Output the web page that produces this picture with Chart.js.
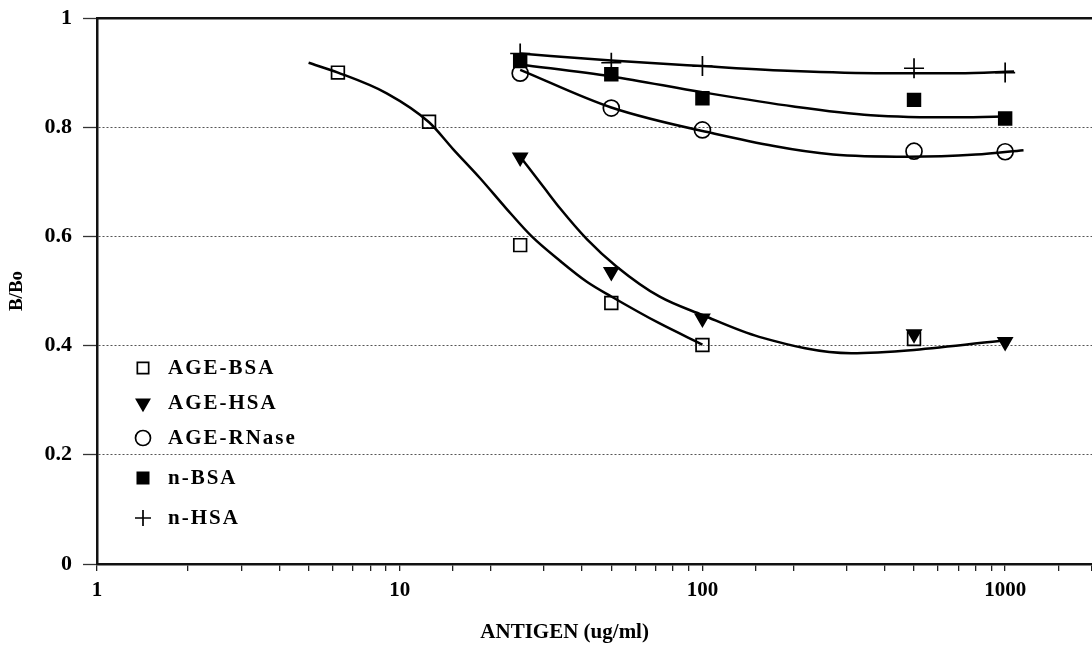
<!DOCTYPE html>
<html><head><meta charset="utf-8">
<script src="https://cdn.jsdelivr.net/npm/chart.js@4.4.0/dist/chart.umd.min.js"></script>
<style>html,body{margin:0;padding:0;background:#fff;overflow:hidden}#wrap{width:1092px;height:646px;position:relative}canvas{display:block}</style>
</head><body><div id="wrap"><canvas id="c"></canvas></div>
<script>
// ---- data ----
const seriesNames = ['AGE-BSA', 'AGE-HSA', 'AGE-RNase', 'n-BSA', 'n-HSA'];
const xTitle = 'ANTIGEN (ug/ml)';
const yTitle = 'B/Bo';
const xTickLabels = [1, 10, 100, 1000];
const yTickValues = [0, 0.2, 0.4, 0.6, 0.8, 1];
const yTickLabels = ['0', '0.2', '0.4', '0.6', '0.8', '1'];

// measured points
const ageBsaX = [6.25, 12.5, 25, 50, 100, 500];
const ageBsaY = [0.900, 0.810, 0.584, 0.478, 0.401, 0.412];
const ageHsaX = [25, 50, 100, 500, 1000];
const ageHsaY = [0.745, 0.535, 0.450, 0.421, 0.407];
const ageRnaseX = [25, 50, 100, 500, 1000];
const ageRnaseY = [0.899, 0.835, 0.795, 0.756, 0.755];
const nBsaX = [25, 50, 100, 500, 1000];
const nBsaY = [0.921, 0.897, 0.853, 0.850, 0.816];
const nHsaX = [25, 50, 100, 500, 1000];
const nHsaY = [0.935, 0.918, 0.912, 0.908, 0.900];

// fitted curves
const ageBsaFitX = [5, 6.25, 9.06, 12.5, 15, 18.4, 22.5, 27.3, 33.9, 41.5, 50, 72, 100];
const ageBsaFitY = [0.918, 0.900, 0.862, 0.809, 0.760, 0.707, 0.651, 0.600, 0.555, 0.517, 0.490, 0.441, 0.402];
const ageHsaFitX = [25, 30, 33.9, 41.5, 52, 72, 100, 154, 310, 500, 1000];
const ageHsaFitY = [0.746, 0.689, 0.651, 0.595, 0.545, 0.490, 0.456, 0.416, 0.386, 0.392, 0.410];
const ageRnaseFitX = [25, 50, 100, 270, 480, 800, 1150];
const ageRnaseFitY = [0.905, 0.836, 0.793, 0.750, 0.746, 0.750, 0.758];
const nBsaFitX = [25, 50, 100, 200, 360, 700, 1050];
const nBsaFitY = [0.915, 0.893, 0.864, 0.838, 0.822, 0.818, 0.820];
const nHsaFitX = [25, 50, 100, 200, 400, 700, 1070];
const nHsaFitY = [0.935, 0.922, 0.912, 0.903, 0.899, 0.899, 0.902];

const zip = (xs, ys) => xs.map((x, i) => ({x: x, y: ys[i]}));

const markerStyles = [
  {pointStyle: 'rect', rotation: 0, radius: 9, fill: 'rgba(0,0,0,0)', lr: 8},
  {pointStyle: 'triangle', rotation: 180, radius: 8, fill: '#000', lr: 7.5},
  {pointStyle: 'circle', rotation: 0, radius: 8, fill: 'rgba(0,0,0,0)', lr: 7.5},
  {pointStyle: 'rect', rotation: 0, radius: 9, fill: '#000', lr: 8},
  {pointStyle: 'cross', rotation: 0, radius: 10, fill: 'rgba(0,0,0,0)', lr: 8}
];
const pointSets = [zip(ageBsaX, ageBsaY), zip(ageHsaX, ageHsaY), zip(ageRnaseX, ageRnaseY), zip(nBsaX, nBsaY), zip(nHsaX, nHsaY)];
const fitSets = [zip(ageBsaFitX, ageBsaFitY), zip(ageHsaFitX, ageHsaFitY), zip(ageRnaseFitX, ageRnaseFitY), zip(nBsaFitX, nBsaFitY), zip(nHsaFitX, nHsaFitY)];

const datasets = [];
seriesNames.forEach((name, i) => {
  const m = markerStyles[i];
  datasets.push({
    label: name, data: pointSets[i], showLine: false, order: 1,
    pointStyle: m.pointStyle, rotation: m.rotation, pointRadius: m.radius,
    pointBackgroundColor: m.fill, pointBorderColor: '#000', pointBorderWidth: 1.7,
    pointHoverRadius: m.radius
  });
});
seriesNames.forEach((name, i) => {
  datasets.push({
    label: name + ' fit', data: fitSets[i], showLine: true, order: 2,
    borderColor: '#000', borderWidth: 2.5, pointRadius: 0, pointHoverRadius: 0,
    cubicInterpolationMode: 'monotone', fill: false
  });
});

const serif = '"Liberation Serif", "DejaVu Serif", serif';
const legendRowOffsets = [350, 385, 420, 460, 500];
const inlineLegend = {
  id: 'inlineLegend',
  afterDatasetsDraw(chart) {
    const ctx = chart.ctx, a = chart.chartArea;
    ctx.save();
    ctx.font = 'bold 21px "Liberation Serif"';
    try { ctx.letterSpacing = '2px'; } catch (e) {}
    ctx.textBaseline = 'middle';
    ctx.textAlign = 'left';
    seriesNames.forEach((name, i) => {
      const m = markerStyles[i];
      const y = a.top + legendRowOffsets[i];
      ctx.fillStyle = m.fill;
      ctx.strokeStyle = '#000';
      ctx.lineWidth = 1.7;
      Chart.helpers.drawPoint(ctx, {pointStyle: m.pointStyle, rotation: m.rotation, radius: m.lr, borderWidth: 1.7}, a.left + 46, y);
      ctx.fillStyle = '#000';
      ctx.fillText(name, a.left + 71, y + 1);
    });
    ctx.restore();
    // x-axis title (placed slightly left of centre, as in the source figure)
    ctx.save();
    ctx.font = 'bold 21px "Liberation Serif"';
    ctx.fillStyle = '#000';
    ctx.textAlign = 'center';
    ctx.textBaseline = 'middle';
    ctx.fillText(xTitle, a.left + (a.right - a.left) * 0.47, chart.height - 13);
    ctx.restore();
  }
};

const isLabelled = v => xTickLabels.some(t => Math.abs(t - v) < 1e-6 * t);

new Chart(document.getElementById('c'), {
  type: 'scatter',
  data: {datasets: datasets},
  options: {
    responsive: true, maintainAspectRatio: false, animation: false,
    layout: {autoPadding: false, padding: {top: 18, right: 0, left: 0, bottom: 0}},
    plugins: {legend: {display: false}, tooltip: {enabled: false}},
    scales: {
      x: {
        type: 'logarithmic', position: 'bottom', min: 1, max: 1936,
        border: {display: true, color: '#111', width: 2.5},
        grid: {display: true, drawOnChartArea: false, drawTicks: true, tickLength: 7, color: '#222', lineWidth: 1.3},
        ticks: {autoSkip: false, maxRotation: 0, padding: 7, color: '#000',
          font: {family: serif, size: 21, weight: 'bold'},
          callback: v => isLabelled(v) ? String(Math.round(v)) : ''},
        title: {display: false, text: xTitle},
        afterFit: s => { s.height = 82; s.paddingLeft = 0; s.paddingRight = 0; }
      },
      xTop: {
        type: 'logarithmic', position: 'top', min: 1, max: 1936,
        border: {display: true, color: '#111', width: 2.5},
        grid: {display: false, drawTicks: false},
        ticks: {display: false},
        afterFit: s => { s.height = 0; s.paddingLeft = 0; s.paddingRight = 0; }
      },
      y: {
        min: 0, max: 1,
        border: {display: true, color: '#111', width: 2.5, dash: [2, 2]},
        grid: {display: true, drawOnChartArea: true, drawTicks: true, tickLength: 14,
          color: '#555', lineWidth: 1, tickBorderDash: [], tickColor: '#333', tickWidth: 1.3},
        ticks: {stepSize: 0.2, padding: 11, color: '#000',
          font: {family: serif, size: 22, weight: 'bold'},
          callback: v => { const i = yTickValues.findIndex(t => Math.abs(t - v) < 1e-6); return i >= 0 ? yTickLabels[i] : ''; }},
        title: {display: true, text: yTitle, color: '#000', padding: {top: 6, bottom: 0},
          font: {family: serif, size: 19, weight: 'bold'}},
        afterFit: s => { s.width = 97; s.paddingTop = 0; s.paddingBottom = 0; }
      }
    }
  },
  plugins: [inlineLegend]
});
</script>
</body></html>
